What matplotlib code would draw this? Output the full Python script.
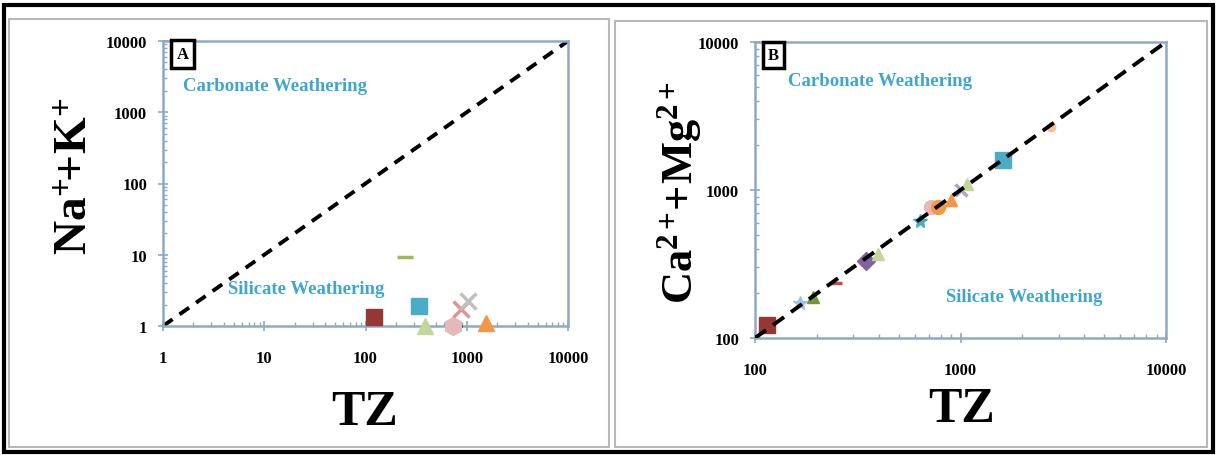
import matplotlib
matplotlib.use("Agg")
import matplotlib.pyplot as plt
from matplotlib.patches import Rectangle

plt.rcParams['font.family'] = ['Liberation Serif', 'DejaVu Serif']
plt.rcParams['mathtext.fontset'] = 'custom'
plt.rcParams['mathtext.rm'] = 'Liberation Serif'
plt.rcParams['mathtext.bf'] = 'Liberation Serif:bold'
plt.rcParams['mathtext.it'] = 'Liberation Serif:italic'

# ---- data: panel A (TZ vs Na+ + K+) ----
tz_a = [120, 243, 335, 384, 790, 727, 875, 1020, 1540]
nak_a = [1.34, 9.4, 1.9, 1.0, 1.0, 1.0, 1.74, 2.25, 1.1]
markers_a = ['s', '_', 's', '^', 'D', 'h', 'x', 'x', '^']
colors_a = ['#953735', '#9bbb59', '#4bacc6', '#c3d69b', '#1f497d', '#e6b9b8',
            '#d99694', '#bfbfbf', '#f79646']
sizes_a = [11, 11, 11, 11, 6, 13, 11, 11, 11]

# ---- data: panel B (TZ vs Ca2+ + Mg2+) ----
tz_b = [114, 165, 192, 248, 348, 398, 638, 722, 773, 904, 1000, 1070, 1604, 2750]
camg_b = [122, 172, 189, 235, 331, 369, 617, 767, 767, 855, 1000, 1100, 1590, 2670]
markers_b = ['s', '*', '^', '_', 'D', '^', '*', 'o', 'o', '^', 'x', '^', 's', 'o']
colors_b = ['#953735', '#9dc3e6', '#77933c', '#c0504d', '#8064a2', '#c3d69b',
            '#4bacc6', '#e6b9b8', '#f79646', '#f79646', '#b3a2c7', '#c3d69b',
            '#4bacc6', '#fac090']
sizes_b = [11, 10, 9, 9, 9, 9, 10, 10, 10, 9, 9, 9, 11, 6]

ticks_a = [1, 10, 100, 1000, 10000]
ticks_b = [100, 1000, 10000]

W, H = 1217, 456
fig = plt.figure(figsize=(W / 100, H / 100), dpi=100)

def fx(px):
    return px / W

def fy(py):
    return 1 - py / H

# outer frame and panel frames
fig.add_artist(Rectangle((fx(4), fy(453)), fx(1213) - fx(4), fy(6) - fy(453),
                         transform=fig.transFigure, fill=False, ec='black', lw=3))
fig.add_artist(Rectangle((fx(9), fy(448)), fx(609) - fx(9), fy(20) - fy(448),
                         transform=fig.transFigure, fill=False, ec='#b8b8b8', lw=1.5))
fig.add_artist(Rectangle((fx(615), fy(448)), fx(1207) - fx(615), fy(22) - fy(448),
                         transform=fig.transFigure, fill=False, ec='#b8b8b8', lw=1.5))

spine_col = '#8ea9c8'
label_col = '#3ea6cf'

def style_axes(ax, ticks):
    ax.set_xscale('log')
    ax.set_yscale('log')
    for s in ax.spines.values():
        s.set_color(spine_col)
        s.set_linewidth(1.8)
    ax.set_xticks(ticks)
    ax.set_yticks(ticks)
    ax.set_xticklabels([str(t) for t in ticks])
    ax.set_yticklabels([str(t) for t in ticks])
    ax.tick_params(which='major', direction='inout', length=7, color=spine_col,
                   labelsize=12, width=1.2)
    ax.tick_params(which='minor', direction='in', length=3, color=spine_col, width=1)
    ax.tick_params(axis='x', which='major', pad=14)
    ax.tick_params(axis='y', which='major', pad=8)
    for lab in ax.get_xticklabels() + ax.get_yticklabels():
        lab.set_fontweight('bold')

def draw_points(ax, xs, ys, ms, cs, ss):
    for x, y, m, c, s in zip(xs, ys, ms, cs, ss):
        kw = dict(marker=m, color=c, ms=s, ls='none', clip_on=False, zorder=3)
        if m in ('x', '_'):
            kw.update(mew=2.5)
        ax.plot([x], [y], **kw)

# ---- Panel A ----
axA = fig.add_axes([fx(163), fy(327), fx(568) - fx(163), fy(42) - fy(327)])
style_axes(axA, ticks_a)
axA.set_xlim(1, 10000)
axA.set_ylim(1, 10000)
axA.plot([1, 10000], [1, 10000], ls=(0, (3, 2.2)), color='black', lw=2.8, zorder=2)
draw_points(axA, tz_a, nak_a, markers_a, colors_a, sizes_a)
axA.text(0.05, 0.845, 'Carbonate Weathering', transform=axA.transAxes,
         color=label_col, fontsize=13.5, fontweight='bold', va='center')
axA.text(0.16, 0.13, 'Silicate Weathering', transform=axA.transAxes,
         color=label_col, fontsize=13.5, fontweight='bold', va='center')
axA.text(0.048, 0.955, 'A', transform=axA.transAxes, fontsize=12, fontweight='bold',
         ha='center', va='center',
         bbox=dict(boxstyle='square,pad=0.35', fc='white', ec='black', lw=2.5))
fig.text(fx(365), fy(413), 'TZ', fontsize=36, fontweight='bold', ha='center', va='center')
fig.text(fx(76), fy(176), r'$\mathbf{Na^{+}\!\!+\!K^{+}}$', fontsize=34, rotation=90,
         ha='center', va='center')

# ---- Panel B ----
axB = fig.add_axes([fx(755), fy(339), fx(1166) - fx(755), fy(43) - fy(339)])
style_axes(axB, ticks_b)
axB.set_xlim(100, 10000)
axB.set_ylim(100, 10000)
axB.plot([100, 10000], [100, 10000], ls=(0, (3.5, 2.2)), color='black', lw=2.8, zorder=4)
draw_points(axB, tz_b, camg_b, markers_b, colors_b, sizes_b)
axB.text(0.08, 0.87, 'Carbonate Weathering', transform=axB.transAxes,
         color=label_col, fontsize=13.5, fontweight='bold', va='center')
axB.text(0.465, 0.14, 'Silicate Weathering', transform=axB.transAxes,
         color=label_col, fontsize=13.5, fontweight='bold', va='center')
axB.text(0.045, 0.955, 'B', transform=axB.transAxes, fontsize=12, fontweight='bold',
         ha='center', va='center',
         bbox=dict(boxstyle='square,pad=0.3', fc='white', ec='black', lw=2.5))
fig.text(fx(962), fy(410), 'TZ', fontsize=36, fontweight='bold', ha='center', va='center')
fig.text(fx(680), fy(192), r'$\mathbf{Ca^{2+}\!\!+\!Mg^{2+}}$', fontsize=32, rotation=90,
         ha='center', va='center')

fig.savefig('out.png', dpi=100)
